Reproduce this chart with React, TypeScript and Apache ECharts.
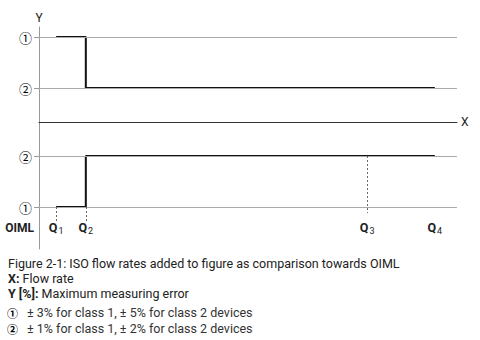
import React, { useEffect, useRef } from "react";
import * as echarts from "echarts";

// Error levels on the Y axis (upper block = ISO, lower block = OIML)
const levelValues = [5, 2, -2, -5];
const levelLabels = ["①", "②", "②", "①"];
const oimlRowValue = -6.24;
const oimlRowLabel = "OIML";

// Flow rate markers on the X axis
const flowRateNames = ["1", "2", "3", "4"];
const flowRates = [4.1, 11.2, 78.5, 94.7];

// Step curves: value at Q1, after Q2, up to Q4
const isoErrors = [5, 2, 2];
const oimlErrors = [-5, -2, -2];

// Dashed drop lines below the flow rate markers
const dropFrom = [-5, -5, -2];
const dropTo = [-5.88, -5.88, -5.35];

// Caption and footnotes
const captionTitle = "Figure 2-1: ISO flow rates added to figure as comparison towards OIML";
const captionX = ["X:", " Flow rate"];
const captionY = ["Y [%]:", " Maximum measuring error"];
const footnoteMarks = ["①", "②"];
const footnoteTexts = [
  "± 3% for class 1, ± 5% for class 2 devices",
  "± 1% for class 1, ± 2% for class 2 devices",
];

const FONT = "Roboto, 'Noto Sans', sans-serif";
const MARK_FONT = "'Noto Sans CJK JP', 'DejaVu Sans', sans-serif";

export default function App() {
  const ref = useRef<HTMLDivElement>(null);

  useEffect(() => {
    if (!ref.current) return;
    const chart = echarts.init(ref.current, null, { renderer: "svg" });

    const stepX = [flowRates[0], flowRates[1], flowRates[3]];
    const isoData = stepX.map((x, i) => [x, isoErrors[i]]);
    const oimlData = stepX.map((x, i) => [x, oimlErrors[i]]);

    const near = (a: number, b: number) => Math.abs(a - b) < 0.01;

    const yLabelFor = (v: number) => {
      if (near(v, oimlRowValue)) return `{t|${oimlRowLabel}}`;
      const i = levelValues.findIndex((l) => near(l, v));
      return i >= 0 ? `{m|${levelLabels[i]}}` : "";
    };

    const xLabelFor = (v: number) => {
      const i = flowRates.findIndex((q) => near(q, v));
      return i >= 0 ? `{q|Q}{s|${flowRateNames[i]}}` : "";
    };

    const captionRich = {
      b: { fontWeight: "bold", fontSize: 12.5, fill: "#222", fontFamily: FONT },
      n: { fontSize: 12.5, fill: "#222", fontFamily: FONT },
    };

    chart.setOption({
      animation: false,
      grid: { left: 39, right: 23, top: 27, bottom: 91 },
      xAxis: [
        {
          type: "value",
          min: 0,
          max: 100,
          position: "bottom",
          name: "X",
          nameLocation: "end",
          nameGap: 4,
          nameTextStyle: { color: "#222", fontSize: 12, fontFamily: FONT },
          axisLine: { show: true, onZero: true, lineStyle: { color: "#333", width: 1 } },
          axisTick: { show: false },
          axisLabel: { show: false },
          splitLine: { show: false },
        },
        {
          type: "value",
          min: 0,
          max: 100,
          position: "bottom",
          axisLine: { show: false, onZero: false },
          axisTick: { show: false },
          splitLine: { show: false },
          axisLabel: {
            show: true,
            inside: true,
            margin: 14,
            hideOverlap: false,
            customValues: flowRates,
            formatter: (v: number) => xLabelFor(v),
            rich: {
              q: { fontSize: 12.5, fontWeight: "bold", color: "#222", fontFamily: FONT },
              s: { fontSize: 9, color: "#222", fontFamily: FONT, padding: [6, 0, 0, 1] },
            },
          },
        },
      ],
      yAxis: {
        type: "value",
        min: -7.47,
        max: 5.59,
        name: "Y",
        nameLocation: "end",
        nameGap: 3,
        nameTextStyle: { color: "#222", fontSize: 12, fontFamily: FONT, align: "center" },
        axisLine: { show: true, lineStyle: { color: "#999", width: 1 } },
        axisTick: { show: true, length: 5, customValues: levelValues, lineStyle: { color: "#999" } },
        axisLabel: {
          show: true,
          margin: 7,
          hideOverlap: false,
          customValues: [...levelValues, oimlRowValue],
          formatter: (v: number) => yLabelFor(v),
          rich: {
            m: { fontSize: 13, color: "#000", fontFamily: MARK_FONT },
            t: { fontSize: 12, fontWeight: "bold", color: "#222", fontFamily: FONT, padding: [0, -2, 0, 0] },
          },
        },
        splitLine: { show: false },
      },
      series: [
        {
          type: "line",
          xAxisIndex: 0,
          data: [],
          silent: true,
          markLine: {
            silent: true,
            symbol: "none",
            label: { show: false },
            lineStyle: { color: "#aaa", width: 1, type: "solid" },
            data: levelValues.map((v) => ({ yAxis: v })),
          },
        },
        {
          type: "line",
          xAxisIndex: 0,
          step: "end",
          data: isoData,
          showSymbol: false,
          lineStyle: { color: "#111", width: 2 },
        },
        {
          type: "line",
          xAxisIndex: 0,
          step: "end",
          data: oimlData,
          showSymbol: false,
          lineStyle: { color: "#111", width: 2 },
          markLine: {
            silent: true,
            symbol: "none",
            label: { show: false },
            lineStyle: { color: "#666", width: 1, type: [2, 2] },
            data: dropFrom.map((y0, i) => [
              { coord: [flowRates[i], y0] },
              { coord: [flowRates[i], dropTo[i]] },
            ]),
          },
        },
      ],
      graphic: [
        {
          type: "text",
          left: 8,
          top: 257,
          style: { text: captionTitle, fill: "#222", fontSize: 12.5, fontFamily: FONT },
        },
        {
          type: "text",
          left: 8,
          top: 272,
          style: { text: `{b|${captionX[0]}}{n|${captionX[1]}}`, rich: captionRich },
        },
        {
          type: "text",
          left: 8,
          top: 287,
          style: { text: `{b|${captionY[0]}}{n|${captionY[1]}}`, rich: captionRich },
        },
        ...footnoteMarks.flatMap((m, i) => [
          {
            type: "text",
            left: 7,
            top: 307 + i * 16,
            style: { text: m, fill: "#000", fontSize: 11, fontFamily: MARK_FONT, fontWeight: "bold" },
          },
          {
            type: "text",
            left: 27,
            top: 306 + i * 16,
            style: { text: footnoteTexts[i], fill: "#333", fontSize: 12.5, fontFamily: FONT },
          },
        ]),
      ],
    });

    return () => chart.dispose();
  }, []);

  return <div ref={ref} style={{ width: 480, height: 340, position: "absolute", left: 0, top: 0 }} />;
}
